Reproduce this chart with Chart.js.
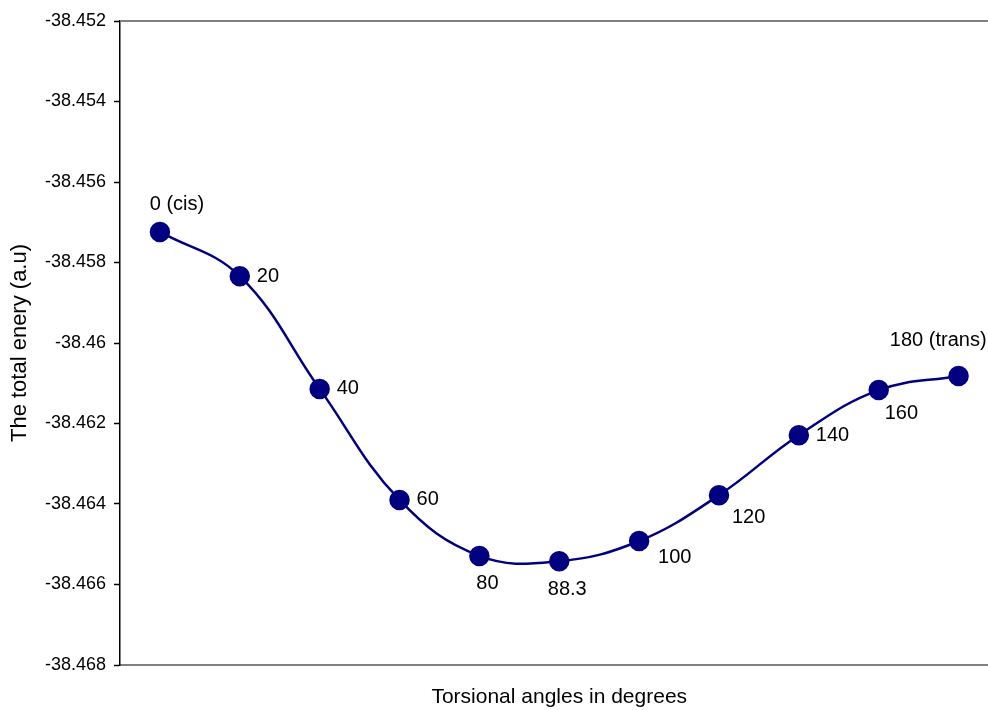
<!DOCTYPE html>
<html>
<head>
<meta charset="utf-8">
<script src="https://cdn.jsdelivr.net/npm/chart.js@4"></script>
<style>
  html, body { margin: 0; padding: 0; background: #fff; overflow: hidden; }
  #wrap { width: 1010px; height: 710px; position: relative; }
</style>
</head>
<body>
<div id="wrap"><canvas id="energia" width="1010" height="710"></canvas></div>
<script>
const szogek = ["0 (cis)", "20", "40", "60", "80", "88.3", "100", "120", "140", "160", "180 (trans)"];
const energiak = [-38.45724, -38.45834, -38.46114, -38.46390, -38.46529, -38.46542,
                  -38.46492, -38.46378, -38.46229, -38.46117, -38.46082];
const yTickek = [-38.468, -38.466, -38.464, -38.462, -38.46, -38.458, -38.456, -38.454, -38.452];
// where each point label sits relative to its marker
const cimkeHely = ["above", "right", "right", "right", "below", "below", "belowRight", "belowRight2", "right", "under", "aboveLeft"];

const sotetKek = "#000080";

// align, dx, dy for each kind of placement
const helyek = {
    above: ["center", 17, -27],
    right: ["left", 17, 0],
    below: ["center", 8, 28],
    belowRight: ["left", 19, 16],
    belowRight2: ["left", 13, 22],
    under: ["left", 6, 23],
    aboveLeft: ["right", 28, -36]
};

const cimkek = {
    id: "cimkek",
    afterDatasetsDraw(chart) {
        const ctx = chart.ctx;
        const pontok = chart.getDatasetMeta(0).data;
        ctx.save();
        ctx.font = "20px 'Liberation Sans', Arial, sans-serif";
        ctx.fillStyle = "#000";
        ctx.textBaseline = "middle";
        pontok.forEach((p, i) => {
            const h = helyek[cimkeHely[i]];
            ctx.textAlign = h[0];
            ctx.fillText(szogek[i], p.x + h[1], p.y + h[2]);
        });
        // gray frame line on top of the plot
        const a = chart.chartArea;
        ctx.strokeStyle = "#808080";
        ctx.lineWidth = 2;
        ctx.beginPath();
        ctx.moveTo(a.left, a.top);
        ctx.lineTo(a.right, a.top);
        ctx.stroke();
        ctx.restore();
    }
};

new Chart("energia", {
    type: "line",
    data: {
        labels: szogek,
        datasets: [{
            data: energiak,
            borderColor: sotetKek,
            backgroundColor: sotetKek,
            borderWidth: 2.5,
            pointRadius: 9,
            pointHoverRadius: 9,
            pointBackgroundColor: sotetKek,
            pointBorderColor: sotetKek,
            tension: 0.4,
            clip: false
        }]
    },
    options: {
        responsive: false,
        animation: false,
        devicePixelRatio: 1,
        layout: { padding: { top: 21, right: 0, left: 0, bottom: 0 } },
        plugins: {
            legend: { display: false },
            tooltip: { enabled: false }
        },
        scales: {
            x: {
                offset: true,
                grid: { display: false, drawTicks: false },
                border: { color: "#808080", width: 2 },
                ticks: { display: false },
                title: {
                    display: true,
                    text: "Torsional angles in degrees",
                    color: "#000",
                    font: { family: "'Liberation Sans', Arial, sans-serif", size: 21 },
                    padding: { top: 0, bottom: 0 }
                },
                afterFit(scale) { scale.height = 45; }
            },
            y: {
                min: -38.468,
                max: -38.452,
                afterBuildTicks(scale) { scale.ticks = yTickek.map(v => ({ value: v })); },
                grid: { drawOnChartArea: false, color: "#000", tickLength: 6, tickWidth: 1.5 },
                border: { color: "#000", width: 1.5 },
                ticks: {
                    color: "#000",
                    padding: 8,
                    font: { family: "'Liberation Sans', Arial, sans-serif", size: 18 },
                    callback: v => String(Number(v.toFixed(3)))
                },
                title: {
                    display: true,
                    text: "The total enery (a.u)",
                    color: "#000",
                    font: { family: "'Liberation Sans', Arial, sans-serif", size: 22 },
                    padding: { top: 7, bottom: 0 }
                },
                afterFit(scale) { scale.width = 120; }
            }
        }
    },
    plugins: [cimkek]
});
</script>
</body>
</html>
